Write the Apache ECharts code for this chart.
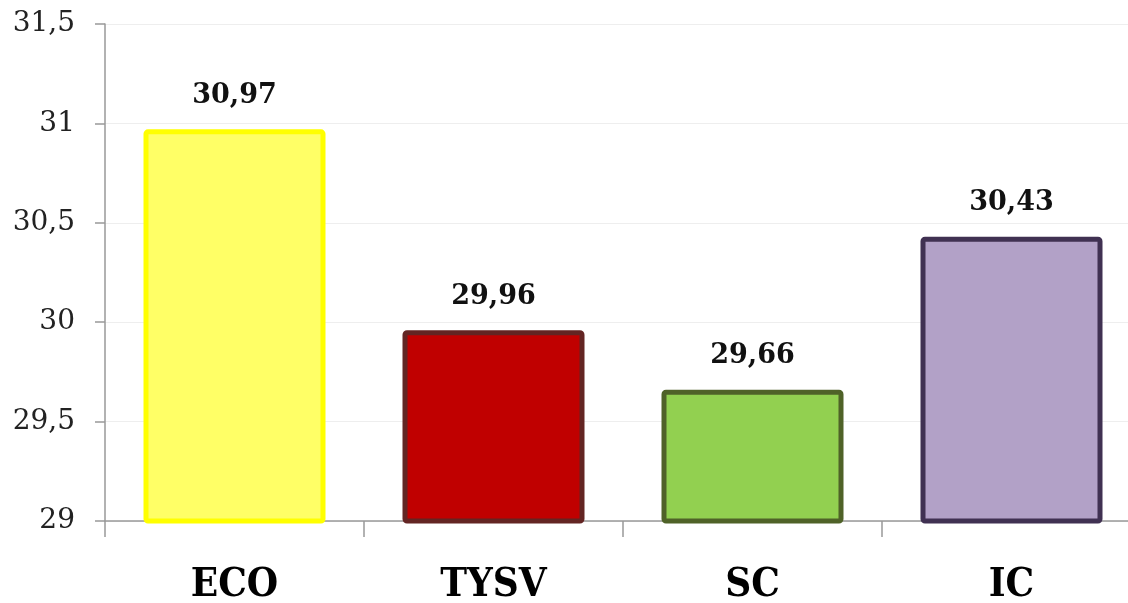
<!DOCTYPE html>
<html>
<head>
<meta charset="utf-8">
<script src="https://cdn.jsdelivr.net/npm/echarts@6/dist/echarts.min.js"></script>
<style>
  html, body { margin: 0; padding: 0; background: #fff; }
  #chart { width: 1128px; height: 603px; }
</style>
</head>
<body>
<div id="chart"></div>
<script>
// categories and values
const categories = ["ECO", "TYSV", "SC", "IC"];
const values = [30.97, 29.96, 29.66, 30.43];
const fillColors = ["#FFFF66", "#C00000", "#92D050", "#B2A1C7"];
const borderColors = ["#FFFF00", "#632523", "#4F6228", "#403152"];

const comma = v => String(v).replace(".", ",");

const chart = echarts.init(document.getElementById("chart"));

chart.setOption({
  animation: false,
  backgroundColor: "#fff",
  textStyle: { fontFamily: "DejaVu Serif" },
  // plot runs past the right edge, as in the cropped original
  grid: {
    left: 105, width: 1036, top: 24, height: 497,
    containLabel: false,
    outerBoundsMode: "none"
  },
  xAxis: {
    type: "category",
    data: categories,
    axisLine: { lineStyle: { color: "#999", width: 1.5 } },
    axisTick: { show: true, alignWithLabel: false, length: 16, lineStyle: { color: "#999", width: 1.5 } },
    axisLabel: {
      margin: 45,
      color: "#000",
      fontSize: 40,
      fontWeight: "bold",
      fontFamily: "DejaVu Serif Condensed"
    }
  },
  yAxis: {
    type: "value",
    min: 29,
    max: 31.5,
    interval: 0.5,
    axisLine: { show: true, lineStyle: { color: "#999", width: 1.5 } },
    axisTick: { show: true, length: 10, lineStyle: { color: "#999", width: 1.5 } },
    splitLine: { lineStyle: { color: "#eeeeee", width: 1 } },
    axisLabel: {
      margin: 30,
      color: "#222",
      fontSize: 28,
      fontFamily: "DejaVu Serif",
      formatter: comma
    }
  },
  series: [{
    type: "bar",
    barWidth: 182,
    data: values.map((v, i) => ({
      value: v,
      itemStyle: {
        color: fillColors[i],
        borderColor: borderColors[i],
        borderWidth: 5,
        borderRadius: 2
      }
    })),
    label: {
      show: true,
      position: "top",
      distance: 20,
      color: "#111",
      fontSize: 27,
      fontWeight: "bold",
      fontFamily: "DejaVu Serif",
      formatter: p => comma(p.value)
    }
  }]
});
</script>
</body>
</html>
